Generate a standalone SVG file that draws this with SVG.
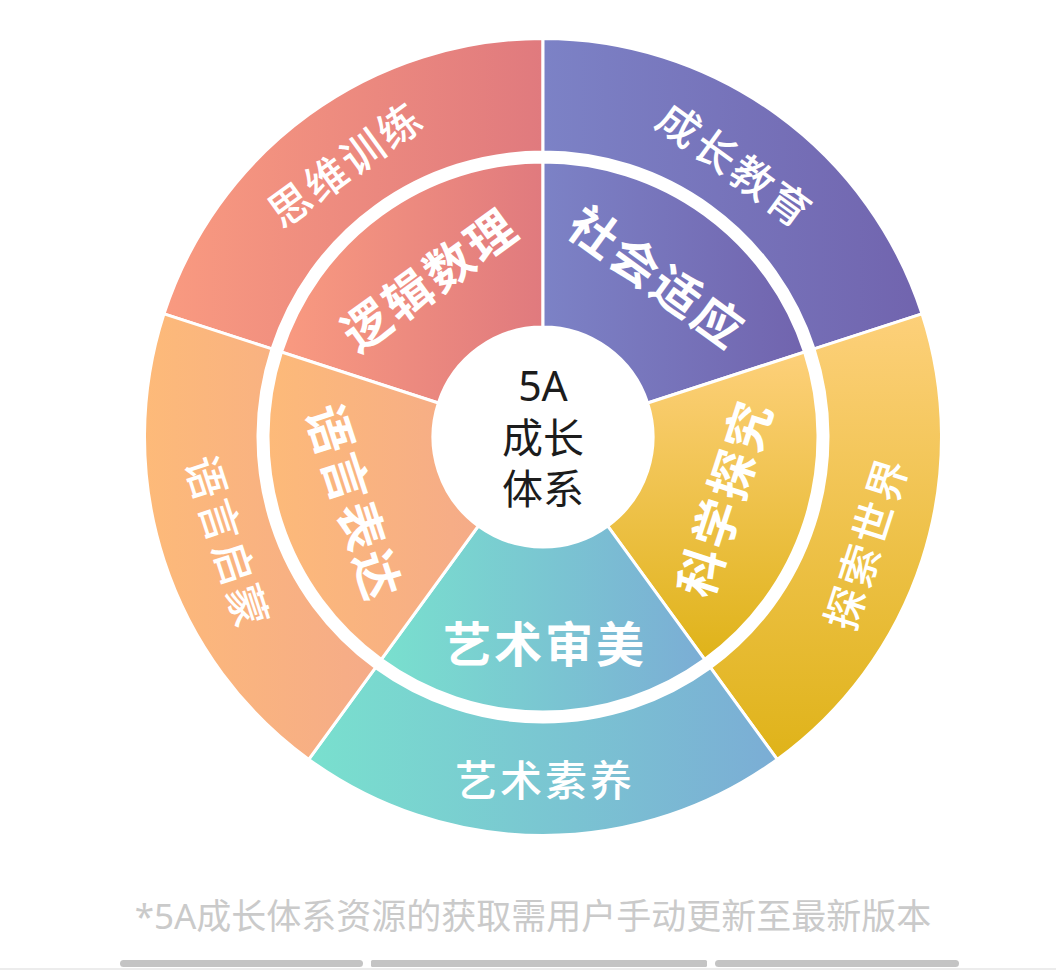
<svg xmlns="http://www.w3.org/2000/svg" width="1056" height="970" viewBox="0 0 1056 970">
  <style>
    .seg { stroke: #ffffff; stroke-width: 3; stroke-linejoin: miter; }
    .outer-label { font-family: "Noto Sans CJK SC", "Noto Sans", sans-serif; font-size: 42px; font-weight: 500; fill: #ffffff; letter-spacing: 3px; text-anchor: middle; dominant-baseline: central; }
    .inner-label { font-family: "Noto Sans CJK SC", "Noto Sans", sans-serif; font-size: 48px; font-weight: 700; fill: #ffffff; letter-spacing: 3px; text-anchor: middle; dominant-baseline: central; }
    .center-label { font-family: "Noto Sans", "Noto Sans CJK SC", sans-serif; font-size: 41px; font-weight: 400; fill: #1c1c1c; text-anchor: middle; dominant-baseline: central; }
    .caption { font-family: "Noto Sans", "Noto Sans CJK SC", sans-serif; font-size: 35px; fill: #cacaca; text-anchor: middle; }
    .bar { fill: #c4c4c4; }
  </style>
  <defs>
    <linearGradient id="gRed" x1="0" y1="0" x2="1" y2="0">
      <stop offset="0" stop-color="#f99a80"/>
      <stop offset="1" stop-color="#e07a7e"/>
    </linearGradient>
    <linearGradient id="gPurple" x1="0" y1="0" x2="1" y2="0">
      <stop offset="0" stop-color="#7c82c6"/>
      <stop offset="1" stop-color="#7164ae"/>
    </linearGradient>
    <linearGradient id="gYellow" x1="0" y1="0" x2="0" y2="1">
      <stop offset="0" stop-color="#fdd07a"/>
      <stop offset="1" stop-color="#dfb319"/>
    </linearGradient>
    <linearGradient id="gTeal" x1="0" y1="0" x2="1" y2="0">
      <stop offset="0" stop-color="#79e0ce"/>
      <stop offset="1" stop-color="#7badd5"/>
    </linearGradient>
    <linearGradient id="gOrange" x1="0" y1="0" x2="1" y2="0">
      <stop offset="0" stop-color="#fdba79"/>
      <stop offset="1" stop-color="#f5ab88"/>
    </linearGradient>
  </defs>

  <rect width="1056" height="970" fill="#ffffff"/>

  <!-- red segment -->
  <g id="seg-red">
    <path class="seg" fill="url(#gRed)" d="M 164.01 313.86 A 398.5 398.5 0 0 1 543 38.5 L 543 152 A 285 285 0 0 0 271.95 348.93 Z"/>
    <text class="outer-label" transform="translate(344 162) rotate(-36)">思维训练</text>
    <path class="seg" fill="url(#gRed)" d="M 281.46 352.02 A 275 275 0 0 1 543 162 L 543 327 A 110 110 0 0 0 438.38 403.01 Z"/>
    <text class="inner-label" transform="translate(428 277) rotate(-36)">逻辑数理</text>
  </g>

  <!-- purple segment -->
  <g id="seg-purple">
    <path class="seg" fill="url(#gPurple)" d="M 543 38.5 A 398.5 398.5 0 0 1 921.99 313.86 L 814.05 348.93 A 285 285 0 0 0 543 152 Z"/>
    <text class="outer-label" transform="translate(737 163) rotate(36)">成长教育</text>
    <path class="seg" fill="url(#gPurple)" d="M 543 162 A 275 275 0 0 1 804.54 352.02 L 647.62 403.01 A 110 110 0 0 0 543 327 Z"/>
    <text class="inner-label" transform="translate(659 275) rotate(36)">社会适应</text>
  </g>

  <!-- yellow segment -->
  <g id="seg-yellow">
    <path class="seg" fill="url(#gYellow)" d="M 921.99 313.86 A 398.5 398.5 0 0 1 777.23 759.39 L 710.52 667.57 A 285 285 0 0 0 814.05 348.93 Z"/>
    <text class="outer-label" transform="translate(864 542) rotate(-72)">探索世界</text>
    <path class="seg" fill="url(#gYellow)" d="M 804.54 352.02 A 275 275 0 0 1 704.64 659.48 L 607.66 525.99 A 110 110 0 0 0 647.62 403.01 Z"/>
    <text class="inner-label" transform="translate(722 497) rotate(-72)">科学探究</text>
  </g>

  <!-- teal segment -->
  <g id="seg-teal">
    <path class="seg" fill="url(#gTeal)" d="M 777.23 759.39 A 398.5 398.5 0 0 1 308.77 759.39 L 375.48 667.57 A 285 285 0 0 0 710.52 667.57 Z"/>
    <text class="outer-label" transform="translate(545 777)">艺术素养</text>
    <path class="seg" fill="url(#gTeal)" d="M 704.64 659.48 A 275 275 0 0 1 381.36 659.48 L 478.34 525.99 A 110 110 0 0 0 607.66 525.99 Z"/>
    <text class="inner-label" transform="translate(545 641)">艺术审美</text>
  </g>

  <!-- orange segment -->
  <g id="seg-orange">
    <path class="seg" fill="url(#gOrange)" d="M 308.77 759.39 A 398.5 398.5 0 0 1 164.01 313.86 L 271.95 348.93 A 285 285 0 0 0 375.48 667.57 Z"/>
    <text class="outer-label" transform="translate(230 542) rotate(72)">语言启蒙</text>
    <path class="seg" fill="url(#gOrange)" d="M 381.36 659.48 A 275 275 0 0 1 281.46 352.02 L 438.38 403.01 A 110 110 0 0 0 478.34 525.99 Z"/>
    <text class="inner-label" transform="translate(357 502) rotate(72)">语言表达</text>
  </g>

  <!-- center hub -->
  <g id="hub">
    <circle cx="543" cy="437" r="110" fill="#ffffff"/>
    <text class="center-label" x="543" y="385">5A</text>
    <text class="center-label" x="543" y="437">成长</text>
    <text class="center-label" x="543" y="488">体系</text>
  </g>

  <!-- caption -->
  <g id="caption">
    <text class="caption" x="533" y="929">*5A成长体系资源的获取需用户手动更新至最新版本</text>
  </g>

  <!-- bottom scroll bars -->
  <g id="bars">
    <rect x="0" y="968" width="1056" height="2" fill="#ececec"/>
    <rect class="bar" x="120" y="960" width="243" height="7" rx="3.5"/>
    <rect class="bar" x="371" y="960" width="336" height="7" rx="1.5"/>
    <rect class="bar" x="715" y="960" width="244" height="7" rx="3.5"/>
  </g>
</svg>
